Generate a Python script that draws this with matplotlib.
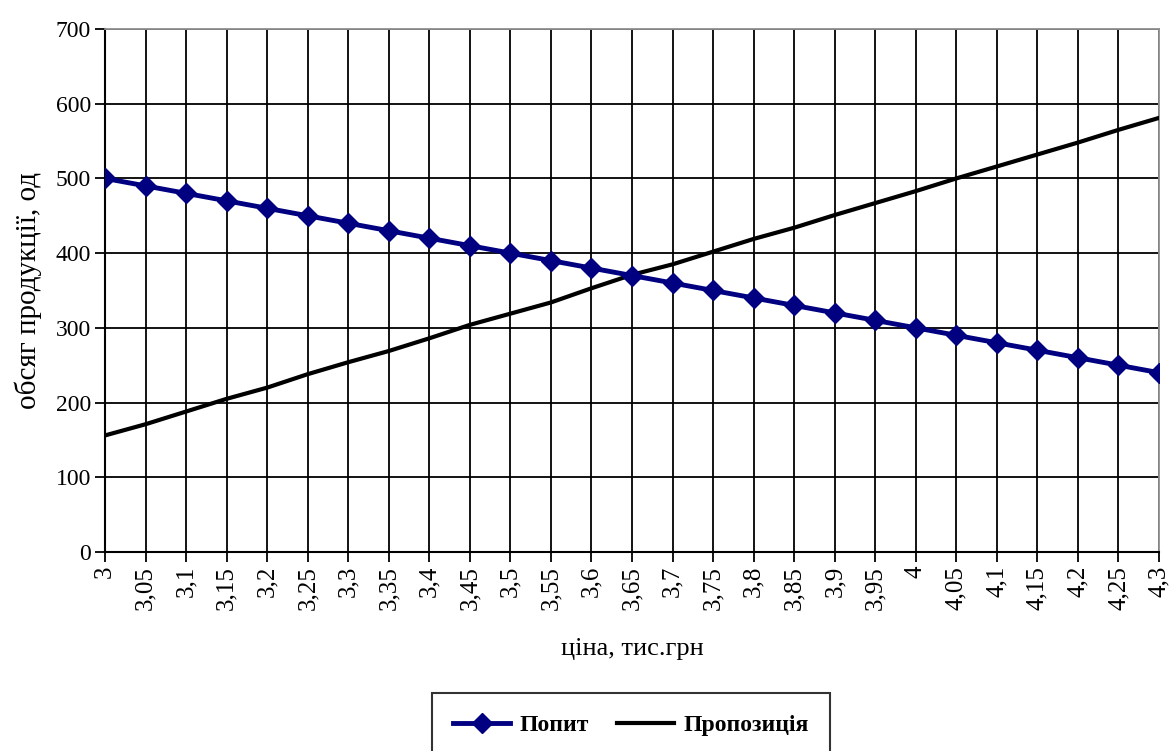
import matplotlib.pyplot as plt
import numpy as np

plt.rcParams['font.family'] = ['Liberation Serif', 'DejaVu Serif']

# ціна, тис.грн
price = ['3', '3,05', '3,1', '3,15', '3,2', '3,25', '3,3', '3,35', '3,4', '3,45',
         '3,5', '3,55', '3,6', '3,65', '3,7', '3,75', '3,8', '3,85', '3,9', '3,95',
         '4', '4,05', '4,1', '4,15', '4,2', '4,25', '4,3']
demand = [500, 490, 480, 470, 460, 450, 440, 430, 420, 410,
          400, 390, 380, 370, 360, 350, 340, 330, 320, 310,
          300, 290, 280, 270, 260, 250, 240]
supply = [156, 171, 188, 205, 220, 238, 254, 269, 286, 304,
          319, 334, 353, 371, 385, 402, 419, 434, 451, 467,
          483, 500, 516, 532, 548, 565, 581]
yticks = [0, 100, 200, 300, 400, 500, 600, 700]

fig = plt.figure(figsize=(11.75, 7.51), dpi=100)
ax = fig.add_axes([0.0894, 0.265, 0.8970, 0.6964])

x = np.arange(len(price))
ax.plot(x, demand, color='#000080', lw=3.5, marker='D', markersize=10,
        label='Попит', zorder=4)
ax.plot(x, supply, color='black', lw=3, label='Пропозиція', zorder=3)

ax.set_xlim(0, len(price) - 1)
ax.set_ylim(0, 700)
ax.set_xticks(x)
ax.set_xticklabels(price, rotation=90, fontsize=18)
ax.set_yticks(yticks)
ax.set_yticklabels([str(v) for v in yticks], fontsize=17)
ax.tick_params(direction='out', length=7, width=1.3, color='black', pad=3)

ax.grid(True, color='black', lw=1.3)
ax.set_axisbelow(True)
for s in ['top', 'right']:
    ax.spines[s].set_color('#909090')
    ax.spines[s].set_linewidth(1.3)
for s in ['left', 'bottom']:
    ax.spines[s].set_color('black')
    ax.spines[s].set_linewidth(1.5)

ax.set_xlabel('ціна, тис.грн', fontsize=19, labelpad=20)
ax.set_ylabel('обсяг продукції, од', fontsize=21, labelpad=10)

leg = fig.legend(loc='upper center', bbox_to_anchor=(0.537, 0.077), ncol=2,
                 frameon=True, fancybox=False, edgecolor='black',
                 prop={'weight': 'bold', 'size': 17}, handlelength=2.4,
                 handletextpad=0.4, columnspacing=1.2, borderpad=0.9,
                 borderaxespad=0)
leg.get_frame().set_linewidth(1.5)

fig.savefig('out.png', dpi=100)
